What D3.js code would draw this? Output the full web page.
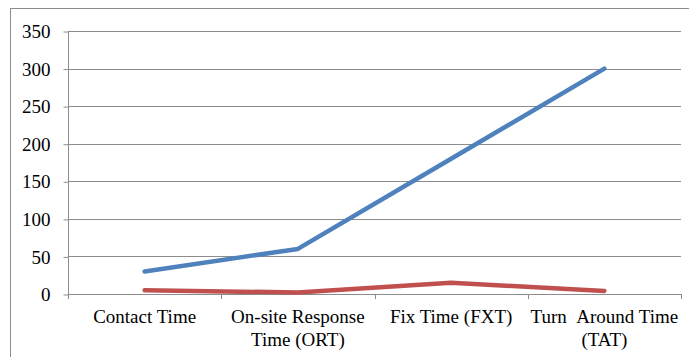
<!DOCTYPE html>
<html>
<head>
<meta charset="utf-8">
<script src="https://cdn.jsdelivr.net/npm/d3@7"></script>
<style>
  body { margin: 0; background: #fff; }
</style>
</head>
<body>
<div id="chart"></div>
<script>
  // categories and series
  const categories = [
    ['Contact Time'],
    ['On-site Response', 'Time (ORT)'],
    ['Fix Time (FXT)'],
    ['Turn\u00a0\u00a0Around Time', '(TAT)'],
  ];
  const seriesBlue = [30, 60, 180, 300];
  const seriesRed = [5, 2, 15, 4];
  const yTicks = [0, 50, 100, 150, 200, 250, 300, 350];

  const width = 689;
  const height = 357;
  const plot = { left: 68, right: 681, top: 31, bottom: 294 };
  const serif = "'Liberation Serif', 'Times New Roman', Times, serif";

  const svg = d3.select('#chart').append('svg')
    .attr('width', width)
    .attr('height', height);

  // outer chart frame (runs past the picture on right and bottom)
  svg.append('rect')
    .attr('x', 10.5)
    .attr('y', 8.5)
    .attr('width', 700)
    .attr('height', 400)
    .attr('fill', 'none')
    .attr('stroke', '#8c8c8c')
    .attr('stroke-width', 1);

  const xScale = d3.scaleBand()
    .domain(d3.range(categories.length))
    .range([plot.left, plot.right]);

  const yScale = d3.scaleLinear()
    .domain([0, 350])
    .range([plot.bottom, plot.top]);

  // gridlines
  svg.selectAll('.grid')
    .data(yTicks.filter(t => t > 0))
    .enter()
    .append('line')
    .attr('x1', plot.left)
    .attr('x2', plot.right)
    .attr('y1', d => Math.round(yScale(d)) + 0.5)
    .attr('y2', d => Math.round(yScale(d)) + 0.5)
    .attr('stroke', '#8c8c8c')
    .attr('stroke-width', 1);

  // y axis
  const yAxis = svg.append('g')
    .attr('transform', `translate(${plot.left + 0.5},0.5)`)
    .call(d3.axisLeft(yScale).tickValues(yTicks).tickSize(5).tickPadding(13));
  yAxis.select('.domain').attr('stroke', '#8c8c8c').attr('d', `M0,${plot.top}V${plot.bottom}`);
  yAxis.selectAll('.tick line').attr('stroke', '#8c8c8c');
  yAxis.selectAll('.tick text')
    .style('font-family', serif)
    .style('font-size', '19px')
    .attr('fill', '#000');

  // x axis line and tick marks at category boundaries
  svg.append('line')
    .attr('x1', plot.left)
    .attr('x2', plot.right)
    .attr('y1', plot.bottom + 0.5)
    .attr('y2', plot.bottom + 0.5)
    .attr('stroke', '#8c8c8c');

  const boundaries = d3.range(categories.length + 1).map(i => plot.left + i * xScale.bandwidth());
  svg.selectAll('.xtick')
    .data(boundaries)
    .enter()
    .append('line')
    .attr('x1', d => Math.round(d) + 0.5)
    .attr('x2', d => Math.round(d) + 0.5)
    .attr('y1', plot.bottom)
    .attr('y2', plot.bottom + 5)
    .attr('stroke', '#8c8c8c');

  // x labels
  categories.forEach(function (lines, i) {
    const t = svg.append('text')
      .attr('x', xScale(i) + xScale.bandwidth() / 2)
      .attr('y', 323)
      .attr('text-anchor', 'middle')
      .style('font-family', serif)
      .style('font-size', '19px')
      .attr('fill', '#000');
    lines.forEach(function (line, j) {
      t.append('tspan')
        .attr('x', xScale(i) + xScale.bandwidth() / 2)
        .attr('dy', j === 0 ? 0 : 23)
        .text(line);
    });
  });

  const line = d3.line()
    .x((d, i) => xScale(i) + xScale.bandwidth() / 2)
    .y(d => yScale(d));

  svg.append('path')
    .datum(seriesBlue)
    .attr('d', line)
    .attr('fill', 'none')
    .attr('stroke', '#4f81bd')
    .attr('stroke-width', 4.5)
    .attr('stroke-linecap', 'round')
    .attr('stroke-linejoin', 'round');

  svg.append('path')
    .datum(seriesRed)
    .attr('d', line)
    .attr('fill', 'none')
    .attr('stroke', '#c0504d')
    .attr('stroke-width', 4.5)
    .attr('stroke-linecap', 'round')
    .attr('stroke-linejoin', 'round');
</script>
</body>
</html>
